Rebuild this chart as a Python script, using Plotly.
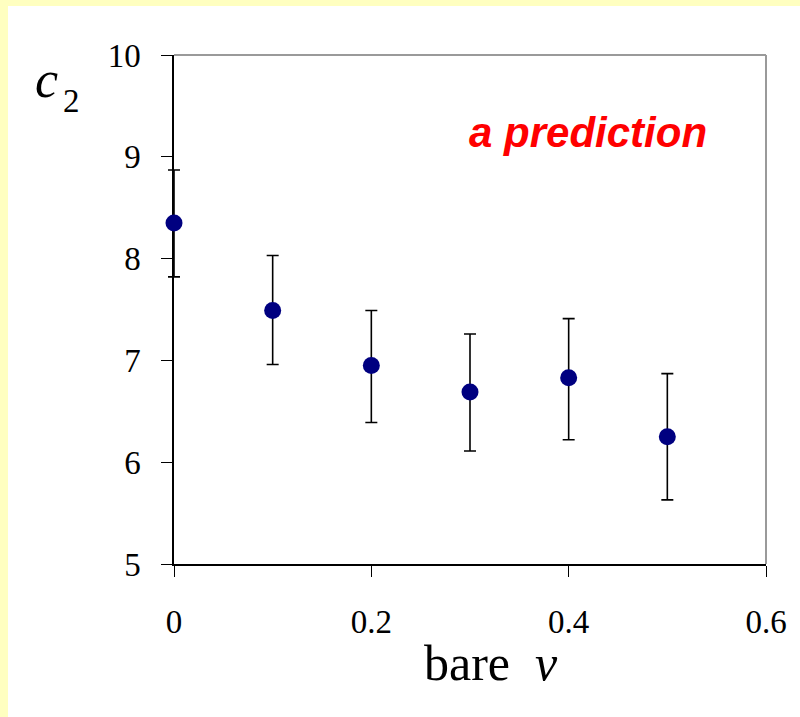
import plotly.graph_objects as go

# data
bare_v = [0.0, 0.1, 0.2, 0.3, 0.4, 0.5]
c2 = [8.35, 7.49, 6.95, 6.69, 6.83, 6.25]
err_plus = [0.52, 0.54, 0.54, 0.57, 0.58, 0.62]
err_minus = [0.53, 0.53, 0.56, 0.58, 0.61, 0.62]
x_ticks = [0, 0.2, 0.4, 0.6]
x_tick_text = ["0", "0.2", "0.4", "0.6"]
y_ticks = [5, 6, 7, 8, 9, 10]
Y_RANGE = [5, 10]
XMAX = 0.6

SERIF = "Liberation Serif, Times New Roman, serif"
SANS = "Liberation Sans, Arial, sans-serif"
W, H = 800, 717
AX_L, R, T, B = 174, 34, 55, 153   # axes frame position in pixels
EXTRA = 20                          # room so error-bar caps at x=0 are not clipped
L = AX_L - EXTRA
pw = W - L - R
ph = H - T - B
dom0 = EXTRA / pw
x2_min = -XMAX * EXTRA / (pw - EXTRA)

def px_x(px):
    return (px - L) / pw

def px_y(py):
    return (H - B - py) / ph

fig = go.Figure()
# invisible trace so that the visible axes subplot is built
fig.add_trace(go.Scatter(
    x=bare_v, y=c2, mode="markers", xaxis="x", yaxis="y",
    marker=dict(opacity=0), hoverinfo="skip", showlegend=False,
))
# data drawn on a hidden, slightly wider subplot with identical scales
fig.add_trace(go.Scatter(
    x=bare_v, y=c2, mode="markers", xaxis="x2", yaxis="y2",
    marker=dict(color="#000080", size=17),
    error_y=dict(type="data", array=err_plus, arrayminus=err_minus,
                 color="black", thickness=1.6, width=6),
    cliponaxis=False, showlegend=False,
))

shapes = [
    # white page over yellow paper, leaving yellow strips at left and top
    dict(type="rect", xref="paper", yref="paper", layer="below",
         x0=px_x(8), x1=px_x(800), y0=px_y(717), y1=px_y(6),
         fillcolor="white", line=dict(width=0)),
    dict(type="line", xref="x domain", yref="y domain", x0=0, x1=1, y0=1, y1=1,
         line=dict(color="#9a9a9a", width=2)),
    dict(type="line", xref="x domain", yref="y domain", x0=1, x1=1, y0=0, y1=1,
         line=dict(color="#9a9a9a", width=2)),
]

annotations = [
    dict(text="<i>c</i>", xref="paper", yref="paper",
         x=px_x(33), y=px_y(80), xanchor="left", yanchor="middle",
         showarrow=False, font=dict(family=SERIF, size=52, color="black")),
    dict(text="2", xref="paper", yref="paper",
         x=px_x(61), y=px_y(101), xanchor="left", yanchor="middle",
         showarrow=False, font=dict(family=SERIF, size=33, color="black")),
    dict(text="<b><i>a prediction</i></b>", xref="paper", yref="paper",
         x=px_x(588), y=px_y(132), xanchor="center", yanchor="middle",
         showarrow=False, font=dict(family=SANS, size=42, color="#ff0000")),
    dict(text="bare\u00a0 <i>v</i>", xref="paper", yref="paper",
         x=px_x(491), y=px_y(663), xanchor="center", yanchor="middle",
         showarrow=False, font=dict(family=SERIF, size=50, color="black")),
]

tickfont = dict(family=SERIF, size=33, color="black")
fig.update_layout(
    width=W, height=H,
    margin=dict(l=L, r=R, t=T, b=B, pad=0),
    paper_bgcolor="#ffffc0", plot_bgcolor="rgba(0,0,0,0)",
    shapes=shapes, annotations=annotations,
    xaxis=dict(domain=[dom0, 1], range=[0, XMAX], tickvals=x_ticks,
               ticktext=x_tick_text, anchor="y",
               showgrid=False, zeroline=False, showline=True,
               linecolor="black", linewidth=1.5, ticks="outside",
               ticklen=11, tickwidth=1.2, tickcolor="black",
               ticklabelstandoff=17, tickfont=tickfont),
    yaxis=dict(domain=[0, 1], range=Y_RANGE, tickvals=y_ticks, anchor="x",
               showgrid=False, zeroline=False, showline=True,
               linecolor="black", linewidth=1.5, ticks="outside",
               ticklen=11, tickwidth=1.2, tickcolor="black",
               ticklabelstandoff=14, tickfont=tickfont),
    xaxis2=dict(domain=[0, 1], range=[x2_min, XMAX], anchor="y2",
                visible=False, showgrid=False, zeroline=False),
    yaxis2=dict(domain=[0, 1], range=Y_RANGE, anchor="x2",
                visible=False, showgrid=False, zeroline=False),
)

fig.write_html(
    "out.html",
    config={"displayModeBar": False},
    post_script="document.body.style.margin='0';"
                "document.body.style.overflow='hidden';",
)
